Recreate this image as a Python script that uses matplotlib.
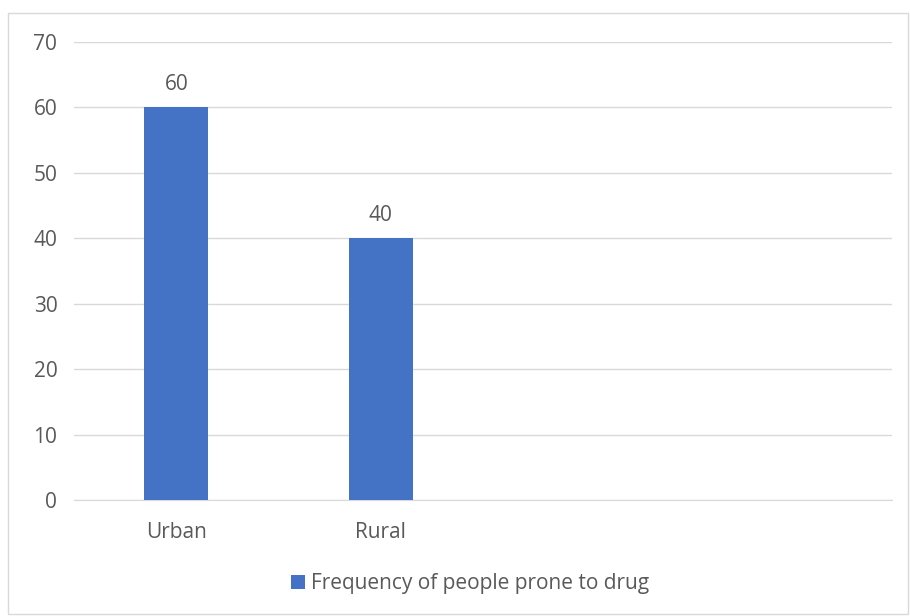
import matplotlib
matplotlib.use("Agg")
import matplotlib.pyplot as plt
from matplotlib.patches import Rectangle

categories = ["Urban", "Rural", "", ""]
values = [60, 40, None, None]
series_name = "Frequency of people prone to drug"
yticks = [0, 10, 20, 30, 40, 50, 60, 70]

plt.rcParams['font.family'] = ['Open Sans', 'DejaVu Sans']
txt = '#595959'
bar_color = '#4472C4'
fs = 15

fig = plt.figure(figsize=(9.1, 6.16), dpi=100)
fig.patches.append(Rectangle((8/910, 2/616), 900/910, 601/616, transform=fig.transFigure,
                             fill=False, edgecolor='#D9D9D9', linewidth=1))
ax = fig.add_axes([74/910, 1-500/616, 818/910, 458/616])

xs = list(range(len(categories)))
bx = [x for x, v in zip(xs, values) if v is not None]
bv = [v for v in values if v is not None]
bars = ax.bar(bx, bv, width=0.315, color=bar_color, label=series_name, zorder=3)
for x, v in zip(bx, bv):
    ax.text(x, v + 1.9, f"{v}", ha='center', va='bottom', fontsize=fs, color=txt)

ax.set_xlim(-0.5, len(categories) - 0.5)
ax.set_ylim(0, 70)
ax.set_yticks(yticks)
ax.set_xticks(xs)
ax.set_xticklabels(categories)
ax.grid(axis='y', color='#D9D9D9', linewidth=1, zorder=0)
for s in ['top', 'right', 'left']:
    ax.spines[s].set_visible(False)
ax.spines['bottom'].set_color('#D9D9D9')
ax.tick_params(axis='both', length=0, labelsize=fs, labelcolor=txt)
ax.tick_params(axis='x', pad=16)
ax.tick_params(axis='y', pad=12)

leg = fig.legend(handles=[bars], labels=[series_name], loc='center',
                 bbox_to_anchor=(470/910, 1-584/616), frameon=False, fontsize=fs,
                 handlelength=0.65, handleheight=0.65, handletextpad=0.3)
for t in leg.get_texts():
    t.set_color(txt)

fig.savefig("out.png", dpi=100)
